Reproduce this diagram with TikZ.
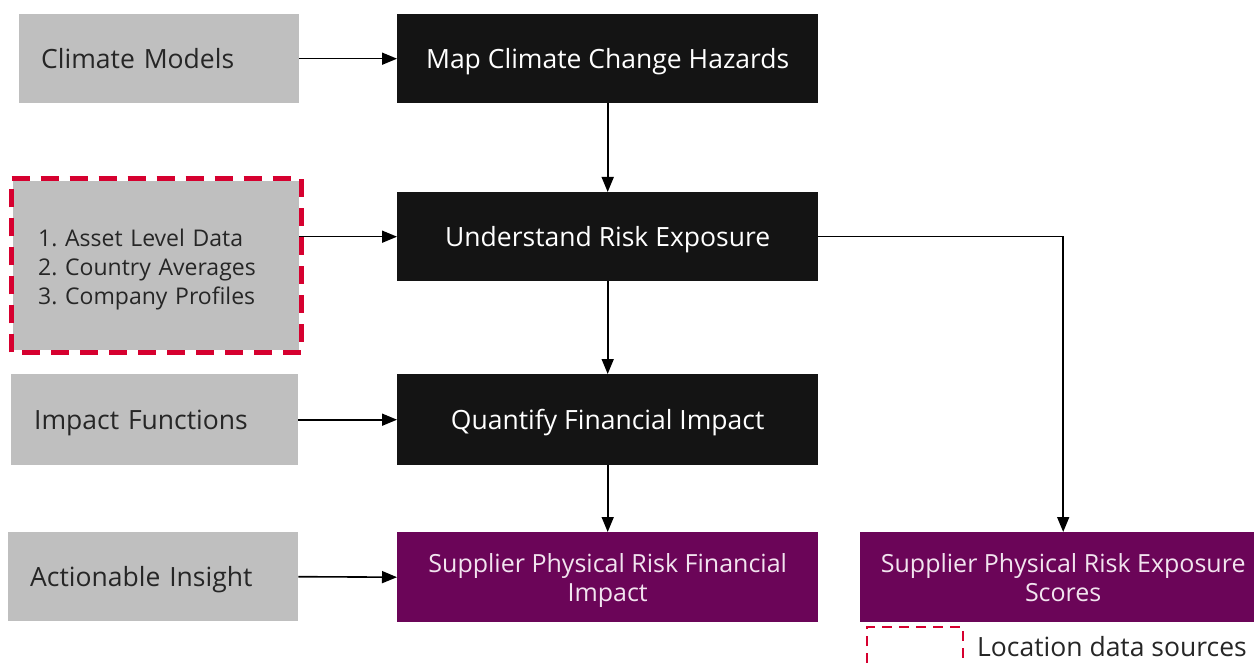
\documentclass[tikz,border=0pt]{standalone}
\usepackage{fontspec}
\setmainfont{Open Sans}
\usetikzlibrary{arrows.meta,calc}
\definecolor{srcgray}{HTML}{BFBFBF}
\definecolor{stepblack}{HTML}{141414}
\definecolor{outpurple}{HTML}{6B0558}
\definecolor{locred}{HTML}{D6002F}
\definecolor{outtext}{HTML}{F2E4EF}
\frenchspacing
\begin{document}
\begin{tikzpicture}[x=1pt,y=-1pt,
  srcbox/.style={fill=srcgray,anchor=north west,inner ysep=0pt,inner xsep=22pt,
    minimum height=#1,align=left,text=black!85,font=\fontsize{26.5}{29}\selectfont,
    text height=19pt,text depth=0pt},
  listbox/.style={fill=srcgray,anchor=north west,inner ysep=0pt,inner xsep=25pt,
    minimum height=169pt,align=left,text=black!85,font=\fontsize{23}{29}\selectfont,
    text height=17pt,text depth=56pt},
  stepbox/.style={fill=stepblack,anchor=north west,inner sep=0pt,minimum width=421pt,
    minimum height=89pt,text=white,font=\fontsize{26.5}{29}\selectfont,
    text height=19pt,text depth=0pt},
  outbox/.style={fill=outpurple,anchor=north west,inner sep=0pt,minimum height=90pt,
    align=center,text=outtext,font=\fontsize{25}{29}\selectfont,text depth=0pt},
  flow/.style={line width=1.6pt,draw=black,-{Triangle[length=15pt,width=12pt]}}]
\useasboundingbox (0,0) rectangle (1254,663);

% input boxes
\node[srcbox=89pt,text width=236pt] (climate) at (19,14) {Climate Models};
\node[listbox,text width=236pt] (location) at (13,181)
  {1. Asset Level Data\\2. Country Averages\\3. Company Profiles};
\draw[locred,line width=5pt,dash pattern=on 18pt off 11pt]
  ($(location.south west)+(-2,2)$) rectangle ($(location.north east)+(2,-2)$);
\node[srcbox=91pt,text width=241pt,inner xsep=23pt] (impact) at (11,374) {Impact Functions};
\node[srcbox=89pt,text width=246pt] (insight) at (8,532) {Actionable Insight};

% process steps
\node[stepbox] (hazards) at (397,14) {Map Climate Change Hazards};
\node[stepbox] (exposure) at (397,192) {Understand Risk Exposure};
\node[stepbox,minimum height=91pt] (quantify) at (397,374) {Quantify Financial Impact};

% outputs
\node[outbox,minimum width=421pt] (financial) at (397,532)
  {Supplier Physical Risk Financial\\Impact};
\node[outbox,minimum width=406pt] (scores) at (860,532)
  {Supplier Physical Risk Exposure\\Scores};

% connectors
\draw[flow] (climate.east) -- (hazards.west);
\draw[flow] (hazards.south) -- (exposure.north);
\draw[flow] (exposure.west -| location.east) -- (exposure.west);
\draw[flow] (exposure.south) -- (quantify.north);
\draw[flow] (impact.east) -- (quantify.west);
\draw[flow] (quantify.south) -- (financial.north);
\draw[flow] (insight.east) -- (financial.west);
\draw[flow] (exposure.east) -| (scores.north);

% legend
\coordinate (legA) at (867,663);
\coordinate (legB) at (963,663);
\draw[locred,line width=2.5pt,dash pattern=on 10pt off 7pt]
  (legA) -- (867,627) -- (963,627) -- (legB);
\node[anchor=west,inner sep=0pt,font=\fontsize{26.5}{29}\selectfont,text=black!85]
  (legtext) at (977,647) {Location data sources};
\end{tikzpicture}
\end{document}
